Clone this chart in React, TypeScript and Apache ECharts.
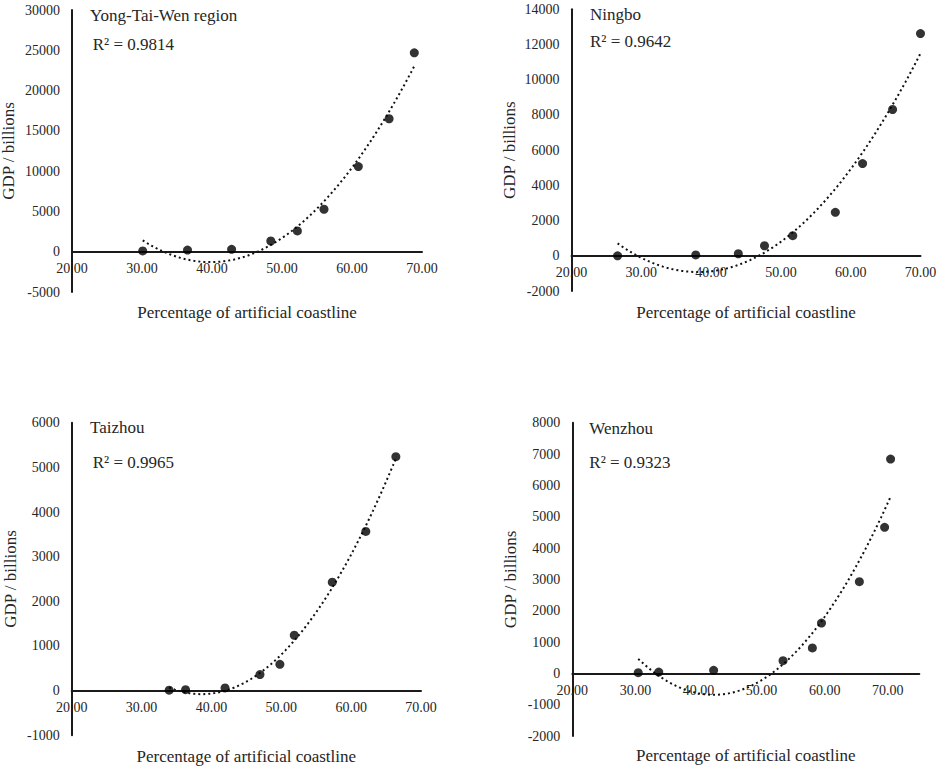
import React, { useEffect, useRef } from "react";
import * as echarts from "echarts";

// ---- Data ----
const ytwX = [30.1, 36.5, 42.8, 48.4, 52.2, 56.0, 60.9, 65.3, 68.9];
const ytwY = [100, 200, 300, 1330, 2580, 5270, 10570, 16500, 24680];

const ningboX = [26.6, 37.8, 43.9, 47.65, 51.7, 57.8, 61.7, 66.0, 70.0];
const ningboY = [0, 50, 115, 570, 1140, 2470, 5240, 8310, 12620];

const taizhouX = [33.95, 36.3, 41.95, 46.95, 49.8, 51.86, 57.3, 62.1, 66.4];
const taizhouY = [10, 22, 60, 360, 590, 1240, 2430, 3565, 5240];

const wenzhouX = [30.45, 33.7, 42.4, 53.4, 58.05, 59.5, 65.5, 69.5, 70.45];
const wenzhouY = [20, 40, 95, 404, 810, 1606, 2925, 4660, 6840];

const panelTitles = ["Yong-Tai-Wen region", "Ningbo", "Taizhou", "Wenzhou"];
const r2Labels = ["R\u00b2 = 0.9814", "R\u00b2 = 0.9642", "R\u00b2 = 0.9965", "R\u00b2 = 0.9323"];

const xMins = [20, 20, 20, 20];
const xMaxs = [70, 70, 70, 75];
const yMins = [-5000, -2000, -1000, -2000];
const yMaxs = [30000, 14000, 6000, 8000];
const yIntervals = [5000, 2000, 1000, 1000];

const xTitle = "Percentage of artificial coastline";
const yTitle = "GDP / billions";

// ---- Layout ----
const grids = [
  { left: 72, top: 10, width: 350, height: 282 },
  { left: 571.5, top: 9.3, width: 349, height: 281.7 },
  { left: 71.7, top: 422.7, width: 349.3, height: 312.6 },
  { left: 572.3, top: 422.7, width: 347, height: 313.3 },
];
const xNameGaps = [52, 48, 57, 74];
const yNameGaps = [55, 54, 53, 53];
const titlePos = [
  { left: 90, top: 7, rLeft: 92.7, rTop: 36 },
  { left: 590, top: 6, rLeft: 590, rTop: 33.3 },
  { left: 90, top: 419.3, rLeft: 92.7, rTop: 454.3 },
  { left: 589.3, top: 420.3, rLeft: 589.3, rTop: 454.3 },
];

const FONT = "Liberation Serif";
const TEXT = "#262626";
const LINE = "#1a1a1a";

// Least-squares quadratic fit (order-2 polynomial trendline, as in the source chart)
function quadFit(xs: number[], ys: number[]) {
  let s0 = 0, s1 = 0, s2 = 0, s3 = 0, s4 = 0, t0 = 0, t1 = 0, t2 = 0;
  for (let i = 0; i < xs.length; i++) {
    const x = xs[i], y = ys[i];
    s0 += 1; s1 += x; s2 += x * x; s3 += x * x * x; s4 += x * x * x * x;
    t0 += y; t1 += x * y; t2 += x * x * y;
  }
  const M = [
    [s0, s1, s2, t0],
    [s1, s2, s3, t1],
    [s2, s3, s4, t2],
  ];
  for (let c = 0; c < 3; c++) {
    let p = c;
    for (let r = c + 1; r < 3; r++) if (Math.abs(M[r][c]) > Math.abs(M[p][c])) p = r;
    [M[c], M[p]] = [M[p], M[c]];
    for (let r = 0; r < 3; r++) {
      if (r === c) continue;
      const f = M[r][c] / M[c][c];
      for (let k = c; k < 4; k++) M[r][k] -= f * M[c][k];
    }
  }
  const a0 = M[0][3] / M[0][0], a1 = M[1][3] / M[1][1], a2 = M[2][3] / M[2][2];
  return (x: number) => a0 + a1 * x + a2 * x * x;
}

function trendPoints(xs: number[], ys: number[]) {
  const f = quadFit(xs, ys);
  const lo = Math.min(...xs), hi = Math.max(...xs);
  const pts: number[][] = [];
  const n = 80;
  for (let i = 0; i <= n; i++) {
    const x = lo + ((hi - lo) * i) / n;
    pts.push([x, f(x)]);
  }
  return pts;
}

export default function App() {
  const ref = useRef<HTMLDivElement>(null);
  useEffect(() => {
    document.body.style.margin = "0";
    if (!ref.current) return;
    const chart = echarts.init(ref.current, undefined, { renderer: "svg" });
    const xsAll = [ytwX, ningboX, taizhouX, wenzhouX];
    const ysAll = [ytwY, ningboY, taizhouY, wenzhouY];

    const titles: any[] = [];
    const xAxes: any[] = [];
    const yAxes: any[] = [];
    const series: any[] = [];
    for (let i = 0; i < 4; i++) {
      titles.push({
        text: panelTitles[i],
        left: titlePos[i].left,
        top: titlePos[i].top,
        padding: 0,
        textStyle: { fontFamily: FONT, fontSize: 17, fontWeight: "normal", color: TEXT },
      });
      titles.push({
        text: r2Labels[i],
        left: titlePos[i].rLeft,
        top: titlePos[i].rTop,
        padding: 0,
        textStyle: { fontFamily: FONT, fontSize: 17, fontWeight: "normal", color: TEXT },
      });
      xAxes.push({
        type: "value",
        gridIndex: i,
        position: "bottom",
        min: xMins[i],
        max: xMaxs[i],
        interval: 10,
        name: xTitle,
        nameLocation: "middle",
        nameGap: xNameGaps[i],
        nameTextStyle: { fontFamily: FONT, fontSize: 17, color: TEXT },
        axisLine: { show: true, onZero: false, lineStyle: { color: LINE, width: 2 } },
        axisTick: { show: false },
        splitLine: { show: false },
        axisLabel: {
          fontFamily: FONT,
          fontSize: 14,
          color: TEXT,
          margin: 10,
          formatter: (v: number) => (v <= 70 ? v.toFixed(2) : ""),
        },
      });
      yAxes.push({
        type: "value",
        gridIndex: i,
        min: yMins[i],
        max: yMaxs[i],
        interval: yIntervals[i],
        name: yTitle,
        nameLocation: "middle",
        nameRotate: 90,
        nameGap: yNameGaps[i],
        nameTextStyle: { fontFamily: FONT, fontSize: 17, color: TEXT },
        axisLine: { show: true, onZero: false, lineStyle: { color: LINE, width: 2 } },
        axisTick: { show: false },
        splitLine: { show: false },
        axisLabel: {
          fontFamily: FONT,
          fontSize: 14,
          color: TEXT,
          margin: 12,
          formatter: (v: number) => String(v),
        },
      });
      series.push({
        type: "line",
        xAxisIndex: i,
        yAxisIndex: i,
        data: trendPoints(xsAll[i], ysAll[i]),
        showSymbol: false,
        symbol: "none",
        smooth: false,
        lineStyle: { color: "#111", width: 2, type: [2, 3] },
        z: 2,
      });
      series.push({
        type: "scatter",
        xAxisIndex: i,
        yAxisIndex: i,
        data: xsAll[i].map((x, k) => [x, ysAll[i][k]]),
        symbol: "circle",
        symbolSize: 9,
        itemStyle: { color: "#000" },
        z: 3,
      });
    }

    chart.setOption({
      animation: false,
      backgroundColor: "#fff",
      title: titles,
      grid: grids.map((g) => ({ ...g, containLabel: false, outerBoundsMode: "none" })),
      xAxis: xAxes,
      yAxis: yAxes,
      series,
    });

    // Move each x axis (line, labels and name) up to the y = 0 level, using the chart's own scales
    const offsets = xAxes.map((_, i) => {
      const pZero = chart.convertToPixel({ gridIndex: i }, [xMins[i], 0]) as number[];
      const pMin = chart.convertToPixel({ gridIndex: i }, [xMins[i], yMins[i]]) as number[];
      return pZero[1] - pMin[1];
    });
    chart.setOption({ xAxis: offsets.map((o) => ({ offset: o })) });

    return () => chart.dispose();
  }, []);
  return (
    <div
      ref={ref}
      style={{ position: "absolute", left: 0, top: 0, width: 941, height: 770 }}
    />
  );
}
